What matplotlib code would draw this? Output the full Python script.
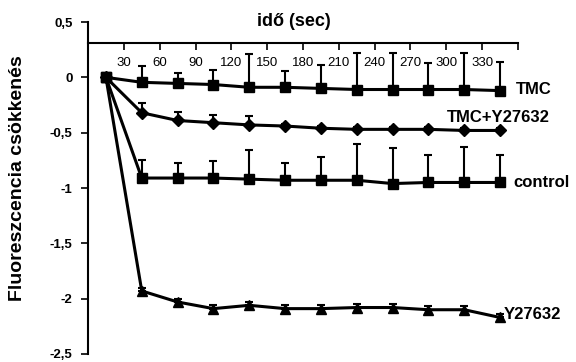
import matplotlib
matplotlib.use('Agg')
import matplotlib.pyplot as plt
import numpy as np

plt.rcParams['font.family'] = ['Liberation Sans', 'DejaVu Sans']

# time labels shown on the top axis (s)
time_labels = ['30', '60', '90', '120', '150', '180', '210', '240', '270', '300', '330']

# measured series (fluorescence decrease) and their upper error bars
tmc = [0, -0.045, -0.055, -0.065, -0.09, -0.09, -0.10, -0.11, -0.11, -0.11, -0.11, -0.12]
tmc_err = [0, 0.145, 0.09, 0.13, 0.30, 0.15, 0.21, 0.33, 0.33, 0.24, 0.33, 0.26]

tmc_y = [0, -0.32, -0.39, -0.41, -0.43, -0.44, -0.46, -0.47, -0.47, -0.47, -0.48, -0.48]
tmc_y_err = [0, 0.09, 0.08, 0.07, 0.08, 0.02, 0.02, 0.02, 0.02, 0.02, 0.02, 0.02]

control = [0, -0.91, -0.91, -0.91, -0.92, -0.93, -0.93, -0.93, -0.96, -0.95, -0.95, -0.95]
control_err = [0, 0.16, 0.14, 0.15, 0.26, 0.16, 0.21, 0.33, 0.32, 0.25, 0.32, 0.25]

y27632 = [0, -1.93, -2.03, -2.09, -2.06, -2.09, -2.09, -2.08, -2.08, -2.10, -2.10, -2.17]
y27632_err = [0, 0.03, 0.03, 0.03, 0.03, 0.03, 0.03, 0.03, 0.03, 0.03, 0.03, 0.03]

series = [
    ('TMC', tmc, tmc_err, 's', 7.5),
    ('TMC+Y27632', tmc_y, tmc_y_err, 'D', 6),
    ('control', control, control_err, 's', 7.5),
    ('Y27632', y27632, y27632_err, '^', 7.5),
]

fig = plt.figure(figsize=(5.76, 3.62), dpi=100)
ax = fig.add_axes([88 / 576, 8 / 362, 430 / 576, 332 / 362])

x = np.arange(len(tmc)) + 0.5

for name, vals, err, mk, ms in series:
    ax.errorbar(x, vals, yerr=[np.zeros(len(err)), err], fmt='none',
                ecolor='black', elinewidth=1.5, capsize=3, capthick=1.5, zorder=2)
    ax.plot(x, vals, color='black', lw=2.2, marker=mk, markersize=ms,
            markerfacecolor='black', markeredgecolor='black', zorder=3)

# series labels at line ends
ax.text(11.94, tmc[-1] + 0.01, 'TMC', fontsize=12, fontweight='bold', va='center', ha='left')
ax.text(10.02, tmc_y[-1] + 0.12, 'TMC+Y27632', fontsize=12, fontweight='bold', va='center', ha='left')
ax.text(11.86, control[-1], 'control', fontsize=12, fontweight='bold', va='center', ha='left')
ax.text(11.6, y27632[-1] + 0.03, 'Y27632', fontsize=12, fontweight='bold', va='center', ha='left')

ax.set_xlim(0, 12)
ax.set_ylim(-2.5, 0.5)

ax.spines['top'].set_visible(False)
ax.spines['right'].set_visible(False)
ax.spines['bottom'].set_position(('data', 0.31))
ax.spines['bottom'].set_linewidth(1.5)
ax.spines['left'].set_linewidth(1.5)

ax.set_xticks(np.arange(1, 13))
ax.set_xticklabels(time_labels + [''])
ax.tick_params(axis='x', direction='out', length=5, width=1.2, labelsize=9.5, pad=5)

yt = [0.5, 0, -0.5, -1, -1.5, -2, -2.5]
ax.set_yticks(yt)
ax.set_yticklabels(['0,5', '0', '-0,5', '-1', '-1,5', '-2', '-2,5'], fontweight='bold')
ax.tick_params(axis='y', direction='out', length=5, width=1.2, labelsize=9.5, pad=6)

fig.text(294 / 576, 1 - 22 / 362, 'idő (sec)', fontsize=13, fontweight='bold', ha='center', va='center')
fig.text(18 / 576, 1 - 178 / 362, 'Fluoreszcencia csökkenés', fontsize=14, fontweight='bold',
         rotation=90, ha='center', va='center')

fig.savefig('out.png', dpi=100)
